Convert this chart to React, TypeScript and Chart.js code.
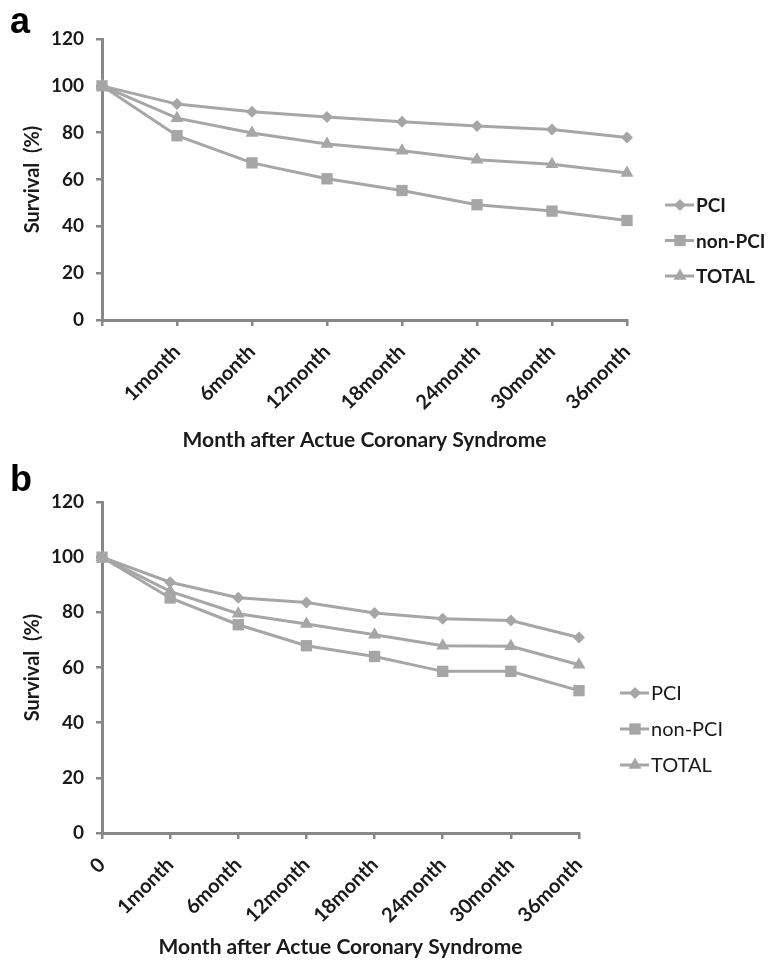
import React, { useEffect, useRef } from 'react';
import { Chart, registerables } from 'chart.js';

Chart.register(...registerables);

const labelsA = ['', '1month', '6month', '12month', '18month', '24month', '30month', '36month'];
const labelsB = ['0', '1month', '6month', '12month', '18month', '24month', '30month', '36month'];
const seriesNames = ['PCI', 'non-PCI', 'TOTAL'];

const pciA = [100, 92.2, 88.9, 86.7, 84.7, 82.8, 81.4, 77.9];
const nonPciA = [100, 78.7, 67.1, 60.3, 55.3, 49.2, 46.5, 42.5];
const totalA = [100, 86.2, 79.9, 75.2, 72.3, 68.4, 66.5, 62.8];

const pciB = [100, 90.9, 85.3, 83.6, 79.8, 77.7, 77.0, 70.9];
const nonPciB = [100, 85.2, 75.5, 67.9, 64.0, 58.6, 58.6, 51.6];
const totalB = [100, 87.6, 79.5, 75.8, 71.9, 67.9, 67.7, 61.0];

const yMin = 0;
const yMax = 120;
const yStep = 20;

const FONT = 'Lato, "Open Sans", "DejaVu Sans", sans-serif';
const LINE = '#A6A6A6';
const AXIS = '#878787';
const TEXT = '#1a1a1a';

const pointStyles = ['rectRot', 'rect', 'triangle'];
const pointRadii = [6, 8, 7.5];

function drawMarker(ctx: CanvasRenderingContext2D, style: string, x: number, y: number, r: number) {
  ctx.beginPath();
  if (style === 'rectRot') {
    ctx.moveTo(x, y - r);
    ctx.lineTo(x + r, y);
    ctx.lineTo(x, y + r);
    ctx.lineTo(x - r, y);
  } else if (style === 'rect') {
    const s = r / Math.SQRT2;
    ctx.rect(x - s, y - s, 2 * s, 2 * s);
  } else {
    ctx.moveTo(x, y - r);
    ctx.lineTo(x + r * Math.sin(Math.PI / 3), y + r / 2);
    ctx.lineTo(x - r * Math.sin(Math.PI / 3), y + r / 2);
  }
  ctx.closePath();
  ctx.fill();
}

type Cfg = {
  labels: string[];
  pci: number[];
  nonPci: number[];
  total: number[];
  height: number;
  plotLeft: number;
  plotRight: number;
  plotTop: number;
  plotBottom: number;
  legendX: number;
  legendY: number;
  legendGap: number;
  legendBold: boolean;
  legendSize: number;
  xTitlePad: number;
};

function makeChart(canvas: HTMLCanvasElement, c: Cfg) {
  const legendPlugin = {
    id: 'customLegend',
    afterDraw(chart: any) {
      const ctx = chart.ctx as CanvasRenderingContext2D;
      ctx.save();
      chart.data.datasets.forEach((ds: any, i: number) => {
        const y = c.legendY + i * c.legendGap;
        ctx.strokeStyle = LINE;
        ctx.lineWidth = 3;
        ctx.beginPath();
        ctx.moveTo(c.legendX, y);
        ctx.lineTo(c.legendX + 29, y);
        ctx.stroke();
        ctx.fillStyle = LINE;
        drawMarker(ctx, pointStyles[i], c.legendX + 15, y, pointRadii[i]);
        ctx.fillStyle = TEXT;
        ctx.font = `${c.legendBold ? 'bold ' : ''}${c.legendSize}px ${FONT}`;
        ctx.textBaseline = 'middle';
        ctx.textAlign = 'left';
        ctx.fillText(ds.label, c.legendX + 31, y + 1);
      });
      ctx.restore();
    },
  };

  const series = [c.pci, c.nonPci, c.total];
  return new Chart(canvas, {
    type: 'line',
    data: {
      labels: c.labels,
      datasets: series.map((d, i) => ({
        label: seriesNames[i],
        data: d,
        borderColor: LINE,
        backgroundColor: LINE,
        borderWidth: 3,
        pointStyle: pointStyles[i] as any,
        pointRadius: pointRadii[i],
        pointBorderWidth: 0,
        pointBackgroundColor: LINE,
        tension: 0,
        fill: false,
      })),
    },
    options: {
      animation: false,
      responsive: false,
      maintainAspectRatio: false,
      layout: {
        padding: { left: 0, right: 771 - c.plotRight, top: c.plotTop, bottom: 0 },
      },
      plugins: {
        legend: { display: false },
        tooltip: { enabled: false },
        title: { display: false },
      },
      scales: {
        x: {
          type: 'category',
          offset: false,
          afterFit: (s: any) => {
            s.height = c.height - c.plotBottom;
          },
          grid: {
            display: true,
            drawOnChartArea: false,
            drawTicks: true,
            tickLength: 6,
            color: AXIS,
            lineWidth: 2.5,
          },
          border: { display: true, color: AXIS, width: 3 },
          ticks: {
            autoSkip: false,
            maxRotation: 45,
            minRotation: 45,
            padding: 14,
            color: TEXT,
            font: { family: FONT, size: 20, weight: 'bold' },
          },
          title: {
            display: true,
            text: 'Month after Actue Coronary Syndrome',
            color: TEXT,
            font: { family: FONT, size: 21, weight: 'bold' },
            padding: { top: 0, bottom: c.xTitlePad },
          },
        },
        y: {
          min: yMin,
          max: yMax,
          afterFit: (s: any) => {
            s.width = c.plotLeft;
          },
          grid: {
            display: true,
            drawOnChartArea: false,
            drawTicks: true,
            tickLength: 6,
            color: AXIS,
            lineWidth: 2.5,
          },
          border: { display: true, color: AXIS, width: 3 },
          ticks: {
            stepSize: yStep,
            padding: 12,
            color: TEXT,
            font: { family: FONT, size: 19, weight: 'bold' },
          },
          title: {
            display: true,
            text: 'Survival  (%)',
            color: TEXT,
            font: { family: FONT, size: 20, weight: 'bold' },
            padding: { top: 21, bottom: 0 },
          },
        },
      },
    },
    plugins: [legendPlugin],
  } as any);
}

function Panel(props: { cfg: Cfg; top: number; letter: string; letterTop: number }) {
  const ref = useRef<HTMLCanvasElement>(null);
  useEffect(() => {
    if (!ref.current) return;
    const ch = makeChart(ref.current, props.cfg);
    return () => ch.destroy();
  }, []);
  return (
    <>
      <canvas
        ref={ref}
        width={771}
        height={props.cfg.height}
        style={{ position: 'absolute', left: 0, top: props.top, width: 771, height: props.cfg.height }}
      />
      <div
        style={{
          position: 'absolute',
          left: 10,
          top: props.letterTop,
          fontFamily: '"Liberation Sans", Arial, sans-serif',
          fontWeight: 'bold',
          fontSize: 36,
          lineHeight: '36px',
          color: '#000',
        }}
      >
        {props.letter}
      </div>
    </>
  );
}

const cfgA: Cfg = {
  labels: labelsA,
  pci: pciA,
  nonPci: nonPciA,
  total: totalA,
  height: 460,
  plotLeft: 102,
  plotRight: 627,
  plotTop: 39,
  plotBottom: 320,
  legendX: 665,
  legendY: 205,
  legendGap: 35.5,
  legendBold: true,
  legendSize: 19,
  xTitlePad: 7,
};

const cfgB: Cfg = {
  labels: labelsB,
  pci: pciB,
  nonPci: nonPciB,
  total: totalB,
  height: 500,
  plotLeft: 102,
  plotRight: 579,
  plotTop: 42,
  plotBottom: 373,
  legendX: 620,
  legendY: 233,
  legendGap: 36,
  legendBold: false,
  legendSize: 20,
  xTitlePad: 0,
};

export default function App() {
  return (
    <div style={{ position: 'absolute', left: 0, top: 0, width: 771, height: 960, background: '#fff', overflow: 'hidden' }}>
      <Panel cfg={cfgA} top={0} letter="a" letterTop={3} />
      <Panel cfg={cfgB} top={460} letter="b" letterTop={461} />
    </div>
  );
}
